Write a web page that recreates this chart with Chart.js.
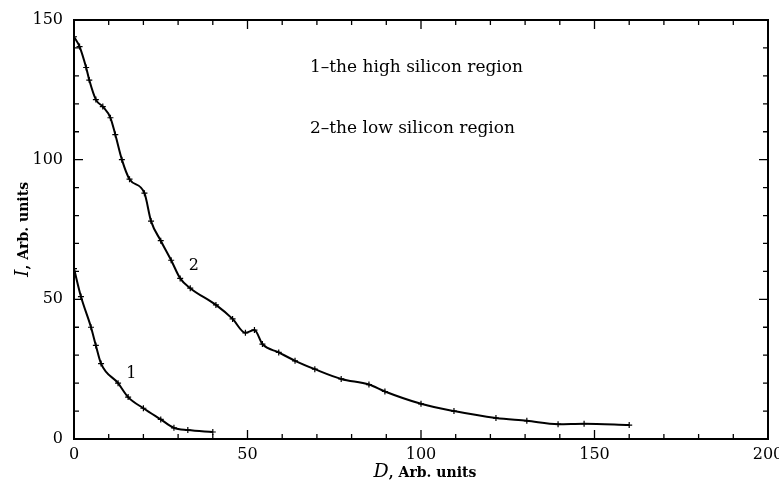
<!DOCTYPE html>
<html>
<head>
<meta charset="utf-8">
<script src="https://cdn.jsdelivr.net/npm/chart.js@4"></script>
<style>
  html, body { margin: 0; background: #fff; }
</style>
</head>
<body>
<canvas id="decayChart" width="779" height="488"></canvas>
<script>
// tick labels
const xTicks = [0, 50, 100, 150, 200];
const yTicks = [0, 50, 100, 150];

// curve 1: high silicon region
const highSiD = [0, 2, 4.9, 6.3, 7.8, 12.7, 15.6, 20, 25, 28.8, 32.8, 40];
const highSiI = [61, 51, 40, 33.5, 27, 20, 15, 11, 7, 4, 3.2, 2.5];

// curve 2: low silicon region
const lowSiD = [0, 1.6, 3.5, 4.4, 6.3, 8.3, 10.5, 11.9, 13.8, 16, 20.3, 22.2, 25, 28, 30.6, 33.5,
                40.9, 45.7, 49.4, 52, 54.3, 59, 63.7, 69.4, 77, 85, 89.6, 100, 109.5, 121.6,
                130.5, 139.5, 147, 160];
const lowSiI = [144, 140.5, 133, 128.5, 121.5, 119, 115, 109, 100, 93, 88, 78, 71, 64, 57.5, 54,
                48, 43, 38, 39, 34, 31, 28, 25, 21.5, 19.5, 17, 12.6, 10, 7.5,
                6.5, 5.3, 5.5, 5];

const legendLines = ['1\u2013the high silicon region', '2\u2013the low silicon region'];
const curveTags = [{ text: '1', d: 16.5, i: 23.5 }, { text: '2', d: 34.5, i: 62 }];

const SERIF = '"DejaVu Serif", "Liberation Serif", serif';

const toPoints = (xs, ys) => xs.map((v, k) => ({ x: v, y: ys[k] }));

// frame, inward ticks, annotations and axis titles
const decorations = {
  id: 'decorations',
  afterDraw(chart) {
    const { ctx, chartArea: a, scales: { x, y } } = chart;
    ctx.save();
    ctx.strokeStyle = '#000';
    ctx.fillStyle = '#000';
    ctx.lineWidth = 2;
    ctx.strokeRect(a.left, a.top, a.right - a.left, a.bottom - a.top);

    ctx.lineWidth = 1.3;
    ctx.beginPath();
    for (let v = 10; v < 200; v += 10) {
      const px = x.getPixelForValue(v);
      const len = v % 50 === 0 ? 9 : 5;
      ctx.moveTo(px, a.bottom); ctx.lineTo(px, a.bottom - len);
      ctx.moveTo(px, a.top); ctx.lineTo(px, a.top + len);
    }
    for (let v = 10; v < 150; v += 10) {
      const py = y.getPixelForValue(v);
      const len = v % 50 === 0 ? 9 : 5;
      ctx.moveTo(a.left, py); ctx.lineTo(a.left + len, py);
      ctx.moveTo(a.right, py); ctx.lineTo(a.right - len, py);
    }
    ctx.stroke();

    // notes in the upper part of the plot
    ctx.font = '17px ' + SERIF;
    ctx.textBaseline = 'middle';
    ctx.textAlign = 'left';
    ctx.fillText(legendLines[0], x.getPixelForValue(68), y.getPixelForValue(133));
    ctx.fillText(legendLines[1], x.getPixelForValue(68), y.getPixelForValue(111));

    // curve numbers
    ctx.font = '16px ' + SERIF;
    ctx.textAlign = 'center';
    curveTags.forEach(t => ctx.fillText(t.text, x.getPixelForValue(t.d), y.getPixelForValue(t.i)));

    // axis titles with an italic symbol
    const title = (sym, rest) => {
      ctx.font = 'italic 19px ' + SERIF;
      const w1 = ctx.measureText(sym).width;
      ctx.font = 'bold 14px ' + SERIF;
      const w2 = ctx.measureText(rest).width;
      const start = -(w1 + w2) / 2;
      ctx.textAlign = 'left';
      ctx.textBaseline = 'alphabetic';
      ctx.font = 'italic 19px ' + SERIF;
      ctx.fillText(sym, start, 0);
      ctx.font = 'bold 14px ' + SERIF;
      ctx.fillText(rest, start + w1, 0);
    };
    ctx.save();
    ctx.translate((a.left + a.right) / 2 + 4, 477);
    title('D', ', Arb. units');
    ctx.restore();
    ctx.save();
    ctx.translate(28, (a.top + a.bottom) / 2);
    ctx.rotate(-Math.PI / 2);
    title('I', ', Arb. units');
    ctx.restore();

    ctx.restore();
  }
};

const lineStyle = {
  borderColor: '#000',
  backgroundColor: '#000',
  borderWidth: 2,
  pointStyle: 'cross',
  pointRadius: 3,
  pointBorderWidth: 1.2,
  cubicInterpolationMode: 'monotone',
  fill: false
};

new Chart(document.getElementById('decayChart'), {
  type: 'line',
  data: {
    datasets: [
      Object.assign({ label: '1', data: toPoints(highSiD, highSiI) }, lineStyle),
      Object.assign({ label: '2', data: toPoints(lowSiD, lowSiI) }, lineStyle)
    ]
  },
  options: {
    responsive: false,
    animation: false,
    devicePixelRatio: 1,
    layout: { padding: { top: 20, right: 11, left: 0, bottom: 0 } },
    plugins: { legend: { display: false }, tooltip: { enabled: false } },
    scales: {
      x: {
        type: 'linear',
        min: 0,
        max: 200,
        afterBuildTicks: s => { s.ticks = xTicks.map(v => ({ value: v })); },
        afterFit: s => { s.height = 49; s.paddingLeft = 0; s.paddingRight = 0; },
        ticks: { color: '#000', font: { family: SERIF, size: 16 }, padding: 6, maxRotation: 0 },
        grid: { display: false, drawTicks: false },
        border: { display: false }
      },
      y: {
        min: 0,
        max: 150,
        afterBuildTicks: s => { s.ticks = yTicks.map(v => ({ value: v })); },
        afterFit: s => { s.width = 74; s.paddingTop = 0; s.paddingBottom = 0; },
        ticks: { color: '#000', font: { family: SERIF, size: 16 }, padding: 11 },
        grid: { display: false, drawTicks: false },
        border: { display: false }
      }
    }
  },
  plugins: [decorations]
});
</script>
</body>
</html>
